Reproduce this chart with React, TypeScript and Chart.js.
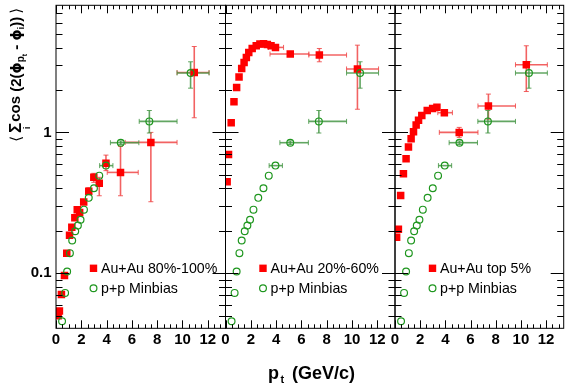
import React, { useEffect, useRef } from "react";
import { Chart, registerables } from "chart.js";
Chart.register(...registerables);

// ---------------- data ----------------
const PP_X = [0.48, 0.72, 0.88, 1.1, 1.28, 1.52, 1.73, 1.94, 2.21, 2.59, 3.0, 3.42, 3.95, 5.12, 7.38, 10.64];
const PP_Y = [0.0457, 0.0726, 0.103, 0.139, 0.171, 0.199, 0.218, 0.24, 0.283, 0.343, 0.401, 0.493, 0.581, 0.845, 1.197, 2.64];
const PP_XLO = [null, null, null, null, null, null, null, null, null, null, null, null, 3.45, 4.3, 6.58, 9.57];
const PP_XHI = [null, null, null, null, null, null, null, null, null, null, null, null, 4.5, 6.55, 9.57, 12.1];
const PP_YLO = [null, null, null, null, null, null, null, null, null, null, null, null, null, 0.82, 0.99, 2.06];
const PP_YHI = [null, null, null, null, null, null, null, null, null, null, null, null, null, 0.87, 1.43, 3.17];

const AU80_X = [0.17, 0.27, 0.43, 0.67, 0.85, 1.07, 1.25, 1.49, 1.68, 1.87, 2.19, 2.59, 2.99, 3.42, 3.95, 5.1, 7.5, 10.93];
const AU80_Y = [0.05, 0.054, 0.0706, 0.0964, 0.139, 0.186, 0.212, 0.248, 0.283, 0.27, 0.321, 0.382, 0.48, 0.435, 0.603, 0.52, 0.849, 2.66];
const AU80_XLO = [null, null, null, null, null, null, null, null, null, null, null, null, null, null, null, 4.05, 5.47, 9.57];
const AU80_XHI = [null, null, null, null, null, null, null, null, null, null, null, null, null, null, null, 6.5, 9.57, 12.1];
const AU80_YLO = [null, null, null, null, null, null, null, null, null, null, null, 0.36, 0.442, 0.355, 0.535, 0.355, 0.322, 1.27];
const AU80_YHI = [null, null, null, null, null, null, null, null, null, null, null, 0.405, 0.512, 0.48, 0.69, 0.796, 1.0, 4.07];

const AU2060_X = [0.13, 0.24, 0.45, 0.67, 0.88, 1.07, 1.28, 1.47, 1.65, 1.84, 2.11, 2.43, 2.72, 3.01, 3.31, 3.6, 3.95, 5.12, 7.42, 10.43];
const AU2060_Y = [0.447, 0.698, 1.17, 1.65, 2.08, 2.47, 2.84, 3.13, 3.4, 3.69, 3.94, 4.12, 4.24, 4.25, 4.21, 4.12, 4.01, 3.6, 3.54, 2.82];
const AU2060_XLO = [null, null, null, null, null, null, null, null, null, null, null, null, null, null, null, null, 3.4, 3.52, 6.59, 9.57];
const AU2060_XHI = [null, null, null, null, null, null, null, null, null, null, null, null, null, null, null, null, 4.59, 6.59, 9.57, 12.1];
const AU2060_YLO = [null, null, null, null, null, null, null, null, null, null, null, null, null, null, null, null, null, 3.48, 3.17, 1.46];
const AU2060_YHI = [null, null, null, null, null, null, null, null, null, null, null, null, null, null, null, null, null, 3.72, 3.94, 4.16];

const AU5_X = [0.13, 0.27, 0.45, 0.67, 0.88, 1.07, 1.28, 1.47, 1.68, 1.87, 2.13, 2.56, 2.99, 3.33, 3.92, 5.1, 7.42, 10.43];
const AU5_Y = [0.18, 0.205, 0.357, 0.509, 0.651, 0.787, 0.902, 1.01, 1.13, 1.22, 1.32, 1.43, 1.48, 1.51, 1.38, 1.0, 1.54, 3.02];
const AU5_XLO = [null, null, null, null, null, null, null, null, null, null, null, null, null, null, 3.4, 3.52, 6.59, 9.57];
const AU5_XHI = [null, null, null, null, null, null, null, null, null, null, null, null, null, null, 4.56, 6.59, 9.57, 12.1];
const AU5_YLO = [null, null, null, null, null, null, null, null, null, null, null, null, null, null, null, 0.922, 1.24, 1.95];
const AU5_YHI = [null, null, null, null, null, null, null, null, null, null, null, null, null, null, null, 1.085, 1.87, 4.12];

const AU_LABELS = ["Au+Au 80%-100%", "Au+Au 20%-60%", "Au+Au top 5%"];
const PP_LABEL = "p+p Minbias";
const X_TICK_LABELS = ["0", "2", "4", "6", "8", "10", "12"];
const X_TICK_VALUES = [0, 2, 4, 6, 8, 10, 12];
const Y_TICK_LABELS = ["0.1", "1"];
const Y_TICK_VALUES = [0.1, 1];

const AU_SERIES = [
  { x: AU80_X, y: AU80_Y, xlo: AU80_XLO, xhi: AU80_XHI, ylo: AU80_YLO, yhi: AU80_YHI },
  { x: AU2060_X, y: AU2060_Y, xlo: AU2060_XLO, xhi: AU2060_XHI, ylo: AU2060_YLO, yhi: AU2060_YHI },
  { x: AU5_X, y: AU5_Y, xlo: AU5_XLO, xhi: AU5_XHI, ylo: AU5_YLO, yhi: AU5_YHI },
];
const PP_SERIES = { x: PP_X, y: PP_Y, xlo: PP_XLO, xhi: PP_XHI, ylo: PP_YLO, yhi: PP_YHI };

// ---------------- layout / style ----------------
const W = 569;
const H = 387;
const PLOT_TOP = 4.5;
const PLOT_BOTTOM = 328.3;
const PANEL_LEFT = [56, 225.5, 395];
const PANEL_W = 169.5;
const X_MIN = 0;
const X_MAX = 13.4;
const Y_MIN = 0.0407;
const Y_MAX = 7.98;
const FONT = "'Liberation Sans', Arial, Helvetica, sans-serif";
const RED = "#ff0000";
const GREEN = "#1e961e";
const RED_ERR = "rgba(240,70,70,0.85)";
const GREEN_ERR = "rgba(70,150,70,0.85)";

function drawErrors(chart: any, s: any, color: string) {
  const ctx = chart.ctx;
  const sx = chart.scales.x;
  const sy = chart.scales.y;
  ctx.save();
  ctx.strokeStyle = color;
  for (let i = 0; i < s.x.length; i++) {
    const px = sx.getPixelForValue(s.x[i]);
    const py = sy.getPixelForValue(s.y[i]);
    if (s.xlo[i] != null) {
      const a = sx.getPixelForValue(s.xlo[i]);
      const b = sx.getPixelForValue(s.xhi[i]);
      ctx.lineWidth = 1.6;
      ctx.beginPath();
      ctx.moveTo(a, py);
      ctx.lineTo(b, py);
      ctx.stroke();
      ctx.lineWidth = 1;
      ctx.beginPath();
      ctx.moveTo(a, py - 2.5);
      ctx.lineTo(a, py + 2.5);
      ctx.moveTo(b, py - 2.5);
      ctx.lineTo(b, py + 2.5);
      ctx.stroke();
    }
    if (s.ylo[i] != null) {
      const a = sy.getPixelForValue(s.ylo[i]);
      const b = sy.getPixelForValue(s.yhi[i]);
      ctx.lineWidth = 1.6;
      ctx.beginPath();
      ctx.moveTo(px, a);
      ctx.lineTo(px, b);
      ctx.stroke();
      ctx.lineWidth = 1;
      ctx.beginPath();
      ctx.moveTo(px - 2.5, a);
      ctx.lineTo(px + 2.5, a);
      ctx.moveTo(px - 2.5, b);
      ctx.lineTo(px + 2.5, b);
      ctx.stroke();
    }
  }
  ctx.restore();
}

function drawYTitle(ctx: CanvasRenderingContext2D) {
  const pieces: any[] = [
    { t: "\u27E8", f: `15px 'DejaVu Sans', ${FONT}`, dv: 0, gap: 3 },
    { t: "\u03A3", f: `bold 17px ${FONT}`, dv: 0, sub: "i", gap: 1 },
    { t: "cos", f: `bold 15px ${FONT}`, dv: -1 },
    { t: " (2(", f: `bold 15px ${FONT}`, dv: 0 },
    { t: "\u03D5", f: `bold 14px 'DejaVu Sans', ${FONT}`, dv: 0 },
    { t: "p", f: `bold 10px ${FONT}`, dv: 3 },
    { t: "t", f: `bold 7px ${FONT}`, dv: 6 },
    { t: " - ", f: `bold 15px ${FONT}`, dv: 0 },
    { t: "\u03D5", f: `bold 14px 'DejaVu Sans', ${FONT}`, dv: 0 },
    { t: "i", f: `bold 9px ${FONT}`, dv: 3 },
    { t: "))", f: `bold 15px ${FONT}`, dv: 0, gap: 3 },
    { t: "\u27E9", f: `15px 'DejaVu Sans', ${FONT}`, dv: 0 },
  ];
  ctx.save();
  let total = 0;
  for (const p of pieces) {
    ctx.font = p.f;
    p.w = ctx.measureText(p.t).width;
    total += p.w + (p.gap || 0);
  }
  const endY = 8;
  const baseX = 21;
  ctx.translate(baseX, endY + total);
  ctx.rotate(-Math.PI / 2);
  ctx.fillStyle = "#000";
  ctx.textBaseline = "alphabetic";
  ctx.textAlign = "left";
  let u = 0;
  for (const p of pieces) {
    ctx.font = p.f;
    ctx.fillText(p.t, u, p.dv);
    if (p.sub) {
      ctx.font = `bold 9px ${FONT}`;
      const sw = ctx.measureText(p.sub).width;
      ctx.fillText(p.sub, u + p.w / 2 - sw / 2, 9);
    }
    u += p.w + (p.gap || 0);
  }
  ctx.restore();
}

function makePlugin(p: number) {
  return {
    id: "panelDecor" + p,
    beforeDatasetsDraw(chart: any) {
      drawErrors(chart, AU_SERIES[p], RED_ERR);
      drawErrors(chart, PP_SERIES, GREEN_ERR);
    },
    afterDraw(chart: any) {
      const ctx: CanvasRenderingContext2D = chart.ctx;
      const sx = chart.scales.x;
      const sy = chart.scales.y;
      const a = chart.chartArea;
      ctx.save();
      ctx.strokeStyle = "#000";
      ctx.lineWidth = 1;
      ctx.strokeRect(a.left, a.top, a.right - a.left, a.bottom - a.top);
      // x ticks
      ctx.beginPath();
      for (let k = 0; k <= 27; k++) {
        const v = k * 0.5;
        if (v >= X_MAX) break;
        const px = Math.round(sx.getPixelForValue(v)) + 0.5;
        const len = k % 4 === 0 ? 8 : 4;
        ctx.moveTo(px, a.bottom);
        ctx.lineTo(px, a.bottom - len);
        ctx.moveTo(px, a.top);
        ctx.lineTo(px, a.top + len);
      }
      // y ticks
      const decades = [0.01, 0.1, 1];
      for (const d of decades) {
        for (let m = 1; m <= 9; m++) {
          const v = d * m;
          if (v <= Y_MIN * 1.01 || v >= Y_MAX * 0.99) continue;
          const py = Math.round(sy.getPixelForValue(v)) + 0.5;
          const len = m === 1 ? 13 : 6.5;
          ctx.moveTo(a.left, py);
          ctx.lineTo(a.left + len, py);
          ctx.moveTo(a.right, py);
          ctx.lineTo(a.right - len, py);
        }
      }
      ctx.stroke();
      // x tick labels
      ctx.fillStyle = "#000";
      ctx.font = `bold 15px ${FONT}`;
      ctx.textAlign = "center";
      ctx.textBaseline = "middle";
      X_TICK_VALUES.forEach((v, i) => {
        ctx.fillText(X_TICK_LABELS[i], sx.getPixelForValue(v), 339.5);
      });
      if (p === 0) {
        ctx.textAlign = "right";
        Y_TICK_VALUES.forEach((v, i) => {
          ctx.fillText(Y_TICK_LABELS[i], a.left - 4.5, sy.getPixelForValue(v));
        });
        drawYTitle(ctx);
      }
      if (p === 1) {
        ctx.textAlign = "left";
        ctx.textBaseline = "alphabetic";
        ctx.font = `bold 18px ${FONT}`;
        ctx.fillText("p", 268, 379);
        const pw = ctx.measureText("p").width;
        ctx.font = `bold 11px ${FONT}`;
        ctx.fillText("t", 268 + pw + 1.5, 383);
        ctx.font = `bold 18px ${FONT}`;
        ctx.fillText("(GeV/c)", 292, 379);
      }
      // legend
      const lx = a.left + 37.5;
      ctx.fillStyle = RED;
      ctx.fillRect(lx - 3.7, 268.3 - 3.7, 7.4, 7.4);
      ctx.strokeStyle = GREEN;
      ctx.lineWidth = 1.2;
      ctx.beginPath();
      ctx.arc(lx, 288.3, 3.4, 0, Math.PI * 2);
      ctx.stroke();
      ctx.fillStyle = "#000";
      ctx.font = `14.2px ${FONT}`;
      ctx.textAlign = "left";
      ctx.textBaseline = "middle";
      ctx.fillText(AU_LABELS[p], a.left + 45, 268.8);
      ctx.fillText(PP_LABEL, a.left + 45, 288.8);
      ctx.restore();
    },
  };
}

function Panel({ p }: { p: number }) {
  const ref = useRef<HTMLCanvasElement>(null);
  useEffect(() => {
    if (!ref.current) return;
    const au = AU_SERIES[p];
    const chart = new Chart(ref.current, {
      type: "scatter",
      data: {
        datasets: [
          {
            label: PP_LABEL,
            data: PP_X.map((x, i) => ({ x, y: PP_Y[i] })),
            pointStyle: "circle",
            pointRadius: 3.4,
            backgroundColor: "rgba(0,0,0,0)",
            borderColor: GREEN,
            borderWidth: 1.2,
            showLine: false,
          },
          {
            label: AU_LABELS[p],
            data: au.x.map((x: number, i: number) => ({ x, y: au.y[i] })),
            pointStyle: "rect",
            pointRadius: 5.3,
            backgroundColor: RED,
            borderColor: RED,
            borderWidth: 0,
            showLine: false,
          },
        ],
      },
      options: {
        animation: false,
        responsive: false,
        maintainAspectRatio: false,
        devicePixelRatio: 1,
        events: [],
        layout: {
          padding: {
            left: PANEL_LEFT[p],
            right: W - PANEL_LEFT[p] - PANEL_W,
            top: PLOT_TOP,
            bottom: H - PLOT_BOTTOM,
          },
        },
        scales: {
          x: { type: "linear", min: X_MIN, max: X_MAX, display: false },
          y: { type: "logarithmic", min: Y_MIN, max: Y_MAX, display: false },
        },
        plugins: { legend: { display: false }, tooltip: { enabled: false }, title: { display: false } },
      } as any,
      plugins: [makePlugin(p)],
    });
    return () => chart.destroy();
  }, [p]);
  return (
    <canvas
      ref={ref}
      width={W}
      height={H}
      style={{ position: "absolute", left: 0, top: 0, width: W, height: H }}
    />
  );
}

export default function App() {
  return (
    <div style={{ position: "fixed", left: 0, top: 0, width: W, height: H, background: "#fff" }}>
      <Panel p={0} />
      <Panel p={1} />
      <Panel p={2} />
    </div>
  );
}
